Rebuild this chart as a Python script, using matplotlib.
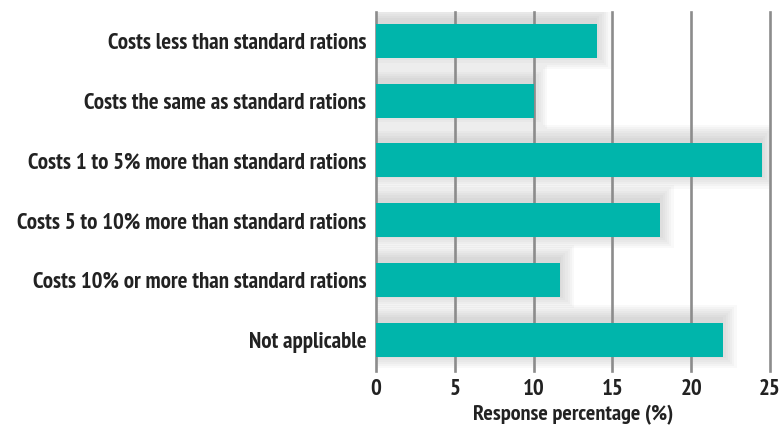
import numpy as np
import matplotlib
matplotlib.use('Agg')
import matplotlib.pyplot as plt
from matplotlib import font_manager

categories = ['Costs less than standard rations',
              'Costs the same as standard rations',
              'Costs 1 to 5% more than standard rations',
              'Costs 5 to 10% more than standard rations',
              'Costs 10% or more than standard rations',
              'Not applicable']
values = [14.0, 10.0, 24.5, 18.0, 11.7, 22.0]
xticks = [0, 5, 10, 15, 20, 25]
xlabel = 'Response percentage (%)'

teal = '#00b5ab'
txt = '#222222'

fig = plt.figure(figsize=(7.82, 4.29), dpi=100)
renderer = fig.canvas.get_renderer()


def is_bold(f):
    w = f.weight
    if isinstance(w, str):
        return w in ('bold', 'heavy', 'extra bold', 'black', 'demibold', 'semibold')
    return w >= 600


def text_width(s, fam, size=14):
    t = fig.text(0, 0, s, family=fam, weight='bold', fontsize=size)
    w = t.get_window_extent(renderer).width
    t.remove()
    return w


# pick the narrowest bold sans we have, the original uses a condensed face
bold_sans = set(f.name for f in font_manager.fontManager.ttflist
                if is_bold(f) and 'Serif' not in f.name and 'Mono' not in f.name
                and 'CJK' not in f.name
                and ('Sans' in f.name or f.name in ('Roboto', 'Lato', 'Inter')))
longest = max(categories, key=len)
best, best_w = 'DejaVu Sans', 1e9
for n in sorted(bold_sans):
    w = text_width(longest, n)
    if w < best_w:
        best, best_w = n, w
fs = min(16.5, 14 * 354 / best_w)
fs_lab = min(16, 14 * 206 / text_width(xlabel, best))
plt.rcParams['font.family'] = [best, 'DejaVu Sans']
plt.rcParams['font.weight'] = 'bold'

ax = fig.add_axes([0.4808, 0.135, 0.5039, 0.837])

y = np.arange(len(categories))
h = 0.57

# soft shadow behind bars
for k in range(1, 8):
    pad = 0.035 * k
    ax.barh(y - 0.06, np.array(values) + pad * 4, height=h + 2 * pad,
            left=-0.1, color='#707070', alpha=0.04, zorder=1, linewidth=0)

ax.barh(y, values, height=h, color=teal, zorder=3, linewidth=0)

for t in xticks:
    ax.axvline(t, color='#8c8c8c', linewidth=1.9, zorder=2, clip_on=False)

ax.set_xlim(0, 25)
ax.set_ylim(5.52, -0.48)
ax.set_xticks(xticks)
ax.set_yticks(y)
ax.set_yticklabels(categories)
ax.tick_params(axis='both', length=0, labelsize=fs, colors=txt)
ax.tick_params(axis='y', pad=7)
ax.tick_params(axis='x', pad=6)
for s in ax.spines.values():
    s.set_visible(False)
ax.set_xlabel(xlabel, fontsize=fs_lab, fontweight='bold', color=txt, labelpad=3)

fig.savefig('out.png', dpi=100)
